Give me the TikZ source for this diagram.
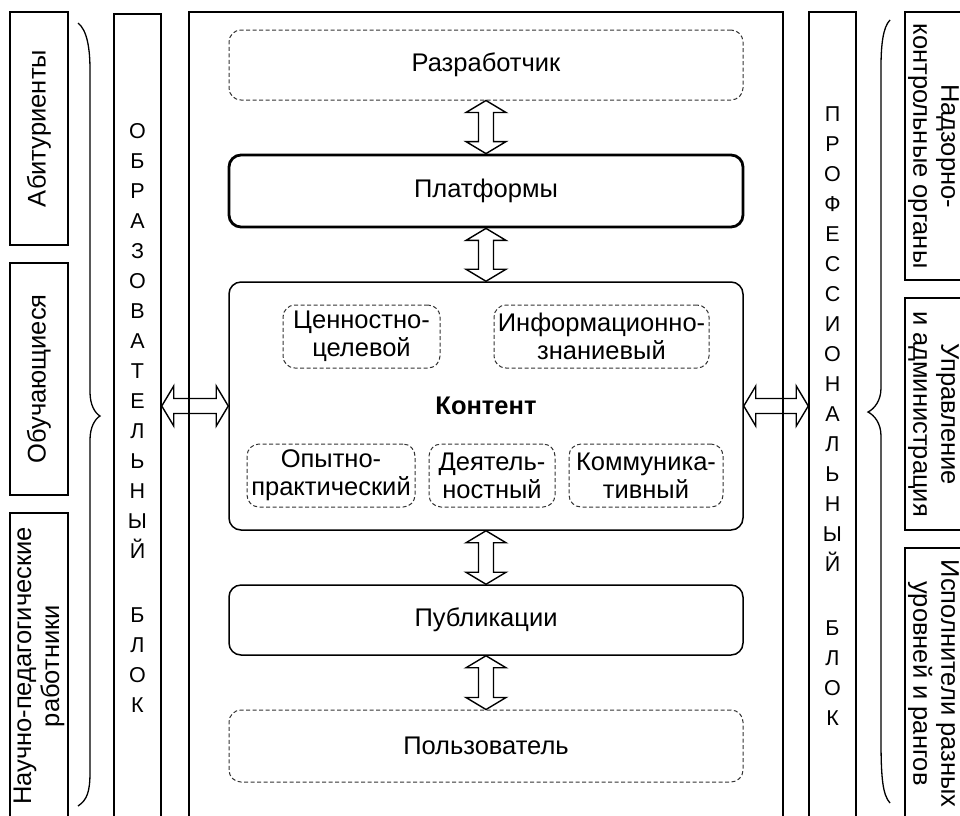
\documentclass[tikz,border=0pt]{standalone}
\usepackage{fontspec}
\setmainfont{Liberation Sans}
\usetikzlibrary{calc}
\tikzset{
  sidebox/.style={draw, line width=1.5pt, inner sep=0pt, align=center, font=\fontsize{25.5}{28}\selectfont},
  colbox/.style={draw, line width=1.5pt, inner sep=0pt, align=center, font=\fontsize{21.5}{30}\selectfont},
  solidbox/.style={draw, rounded corners=12pt, line width=1.5pt, inner sep=0pt, align=center, font=\fontsize{25.5}{28}\selectfont},
  dashbox/.style={draw=black!80, dash pattern=on 4pt off 2.5pt, line width=1pt, rounded corners=12pt, inner sep=0pt, align=center, font=\fontsize{25.5}{28}\selectfont},
  fatarrow/.style={draw, line width=1.4pt, line join=miter},
  bracestyle/.style={draw, line width=1.3pt}
}
\newcommand\vdbl[2]{\path[fatarrow] let \p1=(#1), \p2=(#2) in
  (\x1,\y1) -- (\x1+20pt,\y1-12pt) -- (\x1+7.5pt,\y1-12pt) -- (\x1+7.5pt,\y2+12pt) -- (\x1+20pt,\y2+12pt) -- (\x1,\y2)
  -- (\x1-20pt,\y2+12pt) -- (\x1-7.5pt,\y2+12pt) -- (\x1-7.5pt,\y1-12pt) -- (\x1-20pt,\y1-12pt) -- cycle;}
\newcommand\hdbl[2]{\path[fatarrow] let \p1=(#1), \p2=(#2) in
  (\x1,\y1) -- (\x1+12pt,\y1+20pt) -- (\x1+12pt,\y1+7.5pt) -- (\x2-12pt,\y1+7.5pt) -- (\x2-12pt,\y1+20pt) -- (\x2,\y1)
  -- (\x2-12pt,\y1-20pt) -- (\x2-12pt,\y1-7.5pt) -- (\x1+12pt,\y1-7.5pt) -- (\x1+12pt,\y1-20pt) -- cycle;}
\begin{document}
\begin{tikzpicture}[x=1pt,y=-1pt]
\useasboundingbox (0,0) rectangle (960,815);

% left side boxes
\node[sidebox, rotate=90, minimum width=233pt, minimum height=58pt] (abit) at (39,128.5) {Абитуриенты};
\node[sidebox, rotate=90, minimum width=232pt, minimum height=58pt] (obuch) at (39,379) {Обучающиеся};
\node[sidebox, rotate=90, minimum width=306pt, minimum height=58pt] (nauch) at (39,666) {Научно-педагогические\\работники};

% right side boxes
\node[sidebox, rotate=-90, minimum width=268pt, minimum height=57pt] (nadz) at (933.5,146) {Надзорно-\\контрольные органы};
\node[sidebox, rotate=-90, minimum width=232pt, minimum height=57pt] (upr) at (933.5,414) {Управление\\и администрация};
\node[sidebox, rotate=-90, minimum width=271pt, minimum height=57pt] (ispoln) at (933.5,683.5) {Исполнители разных\\уровней и рангов};

% columns
\node[colbox, minimum width=47pt, minimum height=808pt] (edu) at (137.5,418)
  {О\\Б\\Р\\А\\З\\О\\В\\А\\Т\\Е\\Л\\Ь\\Н\\Ы\\Й\\[34pt]Б\\Л\\О\\К};
\node[colbox, minimum width=47pt, minimum height=808pt] (prof) at (832.5,416)
  {П\\Р\\О\\Ф\\Е\\С\\С\\И\\О\\Н\\А\\Л\\Ь\\Н\\Ы\\Й\\[34pt]Б\\Л\\О\\К};

% central frame
\node[draw, line width=1.5pt, inner sep=0pt, minimum width=594pt, minimum height=808pt] (central) at (486,416) {};

% braces
\path[bracestyle] (78,23) .. controls (87,30) and (90,48) .. (90,70) -- (90,392)
  .. controls (90,405) and (95,413) .. (100,416) .. controls (95,419) and (90,427) .. (90,440)
  -- (90,772) .. controls (90,792) and (87,800) .. (78,806);
\path[bracestyle] (890,20) .. controls (883,27) and (881,45) .. (881,67) -- (881,388)
  .. controls (881,401) and (874,409) .. (868,412) .. controls (874,415) and (881,423) .. (881,436)
  -- (881,740) .. controls (881,780) and (883,795) .. (890,803);

% central chain
\node[dashbox, minimum width=514pt, minimum height=70pt] (razr) at (486,65) {Разработчик};
\node[solidbox, line width=2.8pt, minimum width=514pt, minimum height=72pt] (platf) at (486,191) {Платформы};
\node[solidbox, minimum width=514pt, minimum height=248pt] (kont) at (486,406) {\bfseries Контент};
\node[dashbox, minimum width=157pt, minimum height=63pt] (cen) at (361.5,336.5) {Ценностно-\\целевой};
\node[dashbox, minimum width=215pt, minimum height=63pt] (inf) at (601.5,336.5) {Информационно-\\знаниевый};
\node[dashbox, minimum width=168pt, minimum height=63pt] (opyt) at (331,475.5) {Опытно-\\практический};
\node[dashbox, minimum width=126pt, minimum height=63pt] (deyat) at (492,475.5) {Деятель-\\ностный};
\node[dashbox, minimum width=154pt, minimum height=63pt] (komm) at (646,475.5) {Коммуника-\\тивный};
\node[solidbox, minimum width=514pt, minimum height=70pt] (publ) at (486,620) {Публикации};
\node[dashbox, minimum width=514pt, minimum height=72pt] (polz) at (486,746) {Пользователь};

% arrows
\vdbl{razr.south}{platf.north}
\vdbl{platf.south}{kont.north}
\vdbl{kont.south}{publ.north}
\vdbl{publ.south}{polz.north}
\hdbl{edu.east |- kont.west}{kont.west}
\hdbl{kont.east}{prof.west |- kont.east}
\end{tikzpicture}
\end{document}
